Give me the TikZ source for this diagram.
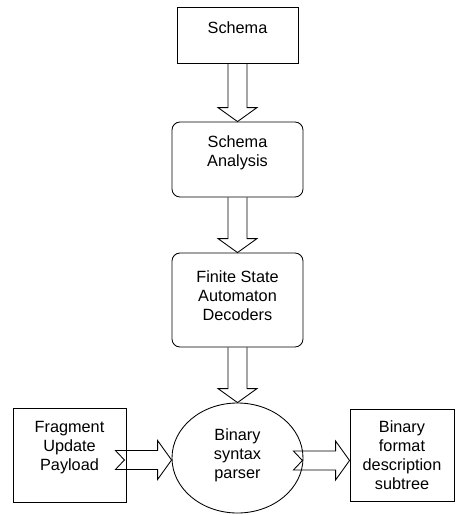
\documentclass[tikz,border=0pt]{standalone}
\usepackage{fontspec}
\setmainfont{Liberation Sans}
\usetikzlibrary{calc,shapes.geometric}

\begin{document}
\begin{tikzpicture}[x=0.75pt,y=-0.75pt,line width=0.65pt,
  box/.style={draw,align=center,inner sep=2pt,font=\fontsize{12.2}{14.3}\selectfont},
  sqbox/.style={box,rectangle},
  rbox/.style={box,rectangle,rounded corners=6pt},
  oval/.style={box,ellipse,inner sep=0pt},
  lift/.style={text depth=#1},
  blockdown/.style={to path={
    ($(\tikztostart)+(-9.5,0)$) -- ($(\tikztotarget)+(-9.5,-14)$) -- ($(\tikztotarget)+(-19.5,-14)$)
    -- (\tikztotarget) -- ($(\tikztotarget)+(19.5,-14)$) -- ($(\tikztotarget)+(9.5,-14)$)
    -- ($(\tikztostart)+(9.5,0)$)}},
  blockright/.style={to path={
    ($(\tikztostart)+(0,-9.5)$) -- ($(\tikztotarget)+(-14,-9.5)$) -- ($(\tikztotarget)+(-14,-19.5)$)
    -- (\tikztotarget) -- ($(\tikztotarget)+(-14,19.5)$) -- ($(\tikztotarget)+(-14,9.5)$)
    -- ($(\tikztostart)+(0,9.5)$) -- ($(\tikztostart)+(9,0)$) -- cycle}}]

\useasboundingbox (0,0) rectangle (455,515);

\node [sqbox,lift=11pt,minimum width=90.75pt,minimum height=42pt] (schema) at (237.5,35) {Schema};
\node [rbox,lift=12pt,minimum width=98.25pt,minimum height=56.25pt] (ana) at (237.5,159.5) {Schema\\Analysis};
\node [rbox,lift=7pt,minimum width=98.25pt,minimum height=70.5pt] (fsa) at (237.5,300) {Finite State\\Automaton\\Decoders};
\node [oval,lift=7pt,minimum width=98.25pt,minimum height=82.5pt] (parser) at (237.5,458) {Binary\\syntax\\parser};
\node [sqbox,lift=14pt,minimum width=84.75pt,minimum height=70.5pt] (frag) at (69.5,455) {Fragment\\Update\\Payload};
\node [sqbox,minimum width=78pt,minimum height=69pt] (fmt) at (402,455) {Binary\\format\\description\\subtree};

% block arrows
\draw [blockdown] (schema.south) to (ana.north);
\draw [blockdown] (ana.south) to (fsa.north);
\draw [blockdown] (fsa.south) to (parser.north);

\coordinate (fragtail) at ($(frag.east |- parser.west)+(-11,2)$);
\coordinate (parsertip) at ($(parser.west)+(0,2)$);
\coordinate (parsertail) at ($(parser.east)+(-10,2.5)$);
\coordinate (fmttip) at (fmt.west |- parsertail);
\draw [blockright] (fragtail) to (parsertip);
\draw [blockright] (parsertail) to (fmttip);

\end{tikzpicture}
\end{document}
